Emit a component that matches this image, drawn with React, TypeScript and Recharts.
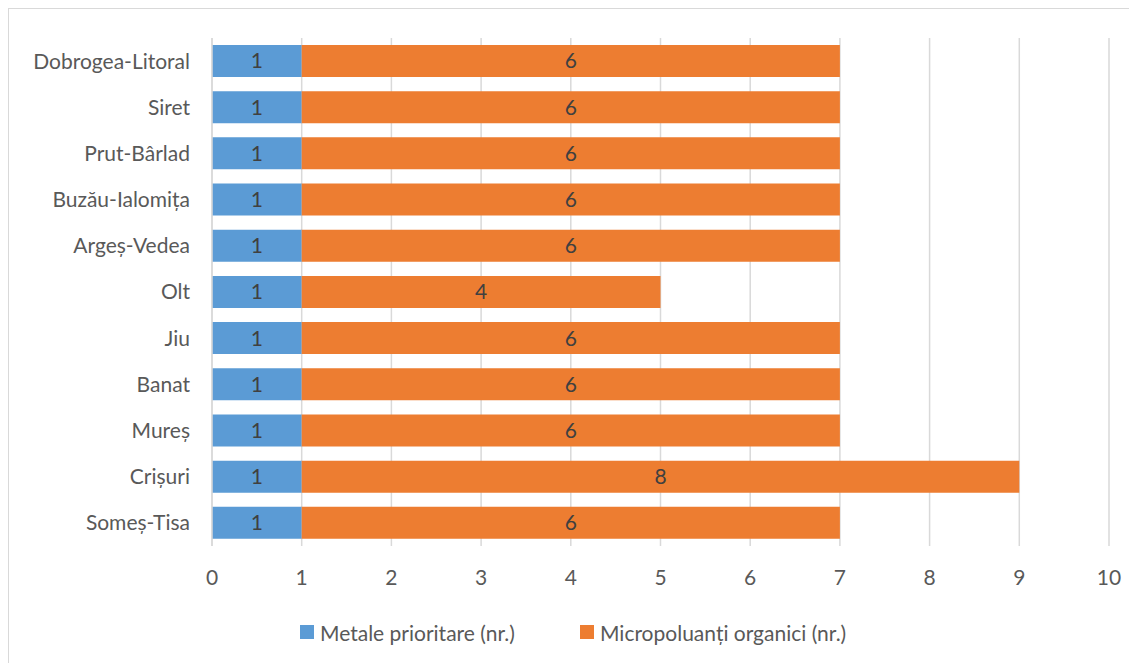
import { BarChart, Bar, XAxis, YAxis, CartesianGrid, Legend, LabelList } from 'recharts'

const regions = [
  'Dobrogea-Litoral',
  'Siret',
  'Prut-Bârlad',
  'Buzău-Ialomița',
  'Argeș-Vedea',
  'Olt',
  'Jiu',
  'Banat',
  'Mureș',
  'Crișuri',
  'Someș-Tisa',
]
const metale = [1, 1, 1, 1, 1, 1, 1, 1, 1, 1, 1]
const micropoluanti = [6, 6, 6, 6, 6, 4, 6, 6, 6, 8, 6]
const xTicks = [0, 1, 2, 3, 4, 5, 6, 7, 8, 9, 10]

const data = regions.map((name, i) => ({
  name,
  metale: metale[i],
  micro: micropoluanti[i],
}))

const font = 'Lato, "Noto Sans", sans-serif'

// legend drawn by hand so the squares and spacing match the original
const renderLegend = (props: any) => {
  const items = props.payload || []
  return (
    <div style={{ height: 26, paddingLeft: 291, display: 'flex', alignItems: 'center', fontFamily: font, fontSize: 21, color: '#595959' }}>
      {items.map((it: any, i: number) => (
        <div key={i} style={{ display: 'flex', alignItems: 'center', width: i === 0 ? 280 : 'auto' }}>
          <span style={{ width: 14, height: 14, background: it.color, marginRight: 6, display: 'inline-block' }} />
          <span>{it.value}</span>
        </div>
      ))}
    </div>
  )
}

export default function App() {
  return (
    <div style={{ width: 1128, height: 654, borderTop: '1px solid #d9d9d9', borderLeft: '1px solid #d9d9d9', fontFamily: font }}>
      <BarChart
        width={1128}
        height={654}
        data={data}
        layout="vertical"
        margin={{ top: 29, right: 28, bottom: 31, left: 0 }}
      >
        <CartesianGrid horizontal={false} stroke="#d9d9d9" strokeWidth={1.5} />
        <XAxis
          type="number"
          domain={[0, 10]}
          ticks={xTicks}
          axisLine={false}
          tickLine={false}
          tickSize={0}
          tickMargin={24}
          height={60}
          tick={{ fill: '#595959', fontSize: 21, fontFamily: font }}
        />
        <YAxis
          type="category"
          dataKey="name"
          width={203}
          axisLine={{ stroke: '#d9d9d9', strokeWidth: 1.5 }}
          tickLine={false}
          tickSize={0}
          tickMargin={22}
          tick={{ fill: '#595959', fontSize: 21, fontFamily: font }}
        />
        <Legend verticalAlign="bottom" content={renderLegend} wrapperStyle={{ top: 610, left: 0 }} />
        <Bar dataKey="metale" name="Metale prioritare (nr.)" stackId="a" fill="#5B9BD5" barSize={32} isAnimationActive={false}>
          <LabelList dataKey="metale" position="center" fill="#404040" fontSize={21} fontFamily={font} />
        </Bar>
        <Bar dataKey="micro" name="Micropoluanți organici (nr.)" stackId="a" fill="#ED7D31" barSize={32} isAnimationActive={false}>
          <LabelList dataKey="micro" position="center" fill="#404040" fontSize={21} fontFamily={font} />
        </Bar>
      </BarChart>
    </div>
  )
}
